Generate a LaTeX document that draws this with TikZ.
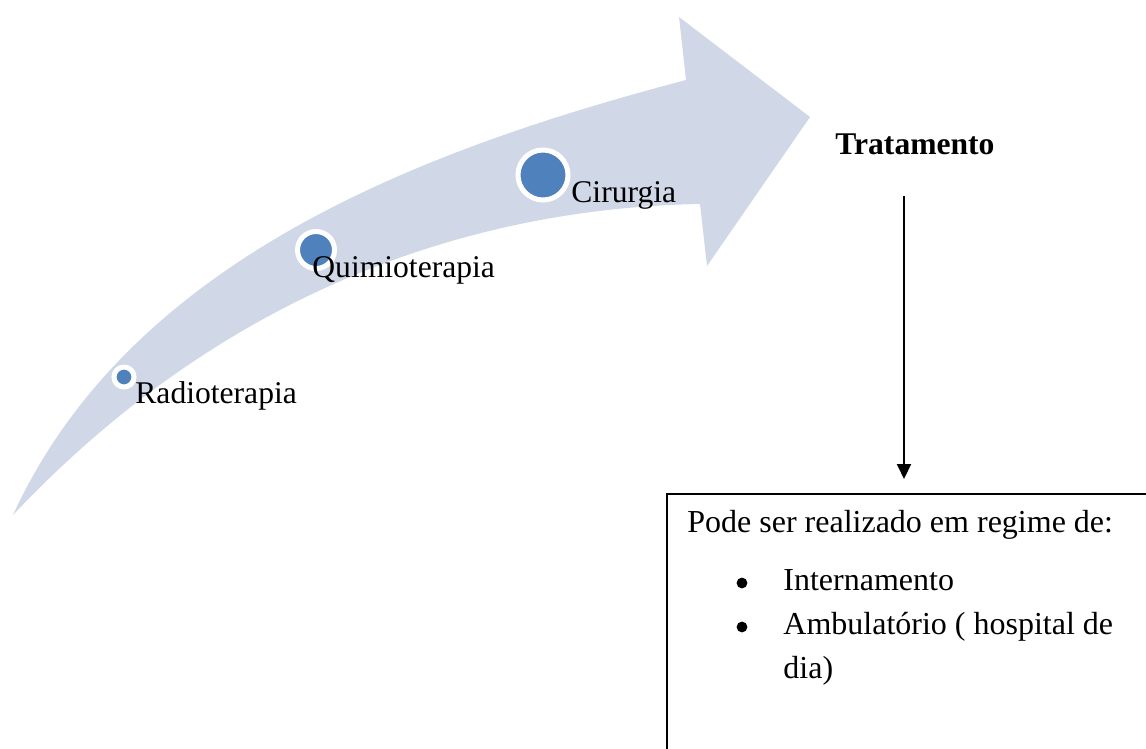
\documentclass[tikz,border=0pt]{standalone}
\usepackage{fontspec}
\setmainfont{Liberation Serif}
\usetikzlibrary{arrows.meta}
\definecolor{arrowfill}{RGB}{208,216,232}
\definecolor{dotblue}{RGB}{79,129,189}
\begin{document}
\begin{tikzpicture}[x=0.5pt,y=-0.5pt,
  lbl/.style={anchor=base west,inner sep=0pt,font=\fontsize{15.8}{19}\selectfont},
  boxtxt/.style={anchor=base west,inner sep=0pt,font=\fontsize{16}{19}\selectfont},
  bul/.style={circle,fill=black,inner sep=0pt,minimum size=5.4pt},
  dot/.style={circle,fill=dotblue,draw=white,line width=2.5pt,inner sep=0pt}]
\useasboundingbox (0,0) rectangle (1146,749);
\clip (0,0) rectangle (1146,749);
% curved arrow
\fill[arrowfill] (13,515) .. controls (130,260) and (420,150) .. (686,80)
  -- (679,17) -- (810,117) -- (707,266) -- (700,204)
  .. controls (480,208) and (230,285) .. (13,515) -- cycle;
% dots
\node[dot,minimum size=10pt] (d1) at (124,377) {};
\node[dot,minimum size=18.5pt] (d2) at (316,250) {};
\node[dot,minimum size=25pt] (d3) at (543,175) {};
% labels
\node[lbl] (radio) at (135,403) {Radioterapia};
\node[lbl] (quimio) at (312,277) {Quimioterapia};
\node[lbl] (cirur) at (571,202) {Cirurgia};
\node[lbl,font=\fontsize{15.8}{19}\selectfont\bfseries] (trat) at (835,155) {Tratamento};
% box
\node[draw,line width=0.85pt,anchor=north west,minimum width=300pt,minimum height=150pt,inner sep=0pt] (box) at (666,493) {};
\node[boxtxt] (t0) at (687,532) {Pode ser realizado em regime de:};
\node[bul] (b1) at (742,583) {};
\node[bul] (b2) at (742,627) {};
\node[boxtxt] (t1) at (783,590) {Internamento};
\node[boxtxt] (t2) at (783,634) {Ambulatório ( hospital de};
\node[boxtxt] (t3) at (783,678) {dia)};
% connector
\coordinate (s) at (904,196);
\draw[line width=1pt,-{Triangle[length=7.5pt,width=7pt]},shorten >=7pt] (s) -- (s |- box.north);
\end{tikzpicture}
\end{document}
